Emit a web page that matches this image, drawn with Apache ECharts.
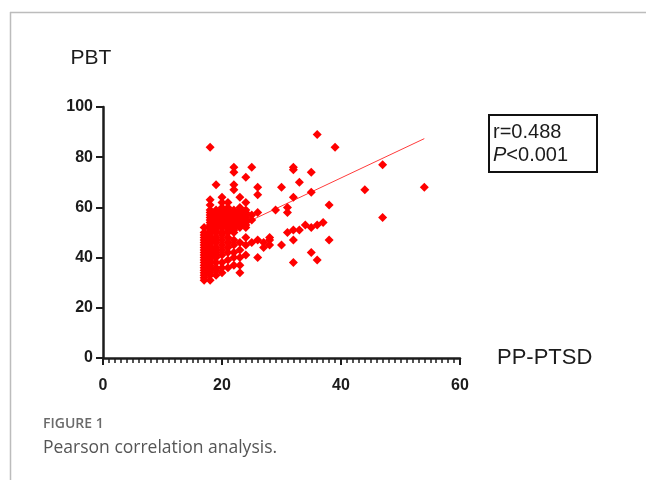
<!DOCTYPE html>
<html>
<head>
<meta charset="utf-8">
<script src="https://cdn.jsdelivr.net/npm/echarts@6.0.0/dist/echarts.min.js"></script>
<style>
html, body { margin: 0; padding: 0; background: #fff; }
#main { width: 646px; height: 480px; }
</style>
</head>
<body>
<div id="main"></div>
<script>
// PP-PTSD score (x) and the PBT scores seen at that x
const ptsdValues = [17, 18, 19, 20, 21, 22, 23, 24, 25, 26, 27, 28, 29, 30, 31, 32, 33, 34, 35, 36, 37, 38, 39, 44, 47, 54];
const pbtByPtsd = [
    [31, 32, 33, 34, 35, 36, 37, 38, 39, 40, 41, 42, 43, 44, 45, 46, 47, 48, 49, 50, 52],
    [31, 33, 34, 35, 36, 37, 38, 39, 40, 41, 42, 43, 44, 45, 46, 47, 48, 49, 50, 51, 52, 53, 54, 55, 56, 57, 58, 59, 61, 63, 84],
    [33, 35, 36, 38, 40, 41, 42, 43, 44, 46, 47, 48, 50, 51, 52, 53, 54, 55, 56, 57, 58, 59, 69],
    [34, 36, 38, 41, 43, 45, 47, 49, 50, 52, 53, 54, 55, 56, 57, 58, 59, 60, 62, 64],
    [36, 39, 42, 44, 46, 48, 50, 51, 52, 53, 54, 55, 56, 57, 58, 59, 60, 62],
    [37, 40, 42, 45, 47, 50, 51, 52, 53, 54, 55, 56, 57, 58, 59, 67, 69, 74, 76],
    [34, 37, 40, 43, 46, 52, 53, 54, 55, 56, 57, 58, 59, 60, 64],
    [41, 45, 48, 52, 53, 54, 55, 56, 57, 58, 59, 62, 72],
    [46, 55, 57, 76],
    [40, 47, 58, 65, 68],
    [44, 46],
    [45, 47, 48],
    [59],
    [45, 68],
    [50, 58, 60],
    [38, 47, 51, 64, 75, 76],
    [51, 70],
    [53],
    [42, 52, 66, 74],
    [39, 53, 89],
    [54],
    [47, 61],
    [84],
    [67],
    [56, 77],
    [68]
];

// fitted line, ends
const fitX = [17, 54];
const fitY = [46, 87.4];

const xTicks = [0, 20, 40, 60];
const yTicks = [0, 20, 40, 60, 80, 100];

let points = [];
ptsdValues.forEach((x, i) => {
    pbtByPtsd[i].forEach(y => points.push([x, y]));
});

let myChart = echarts.init(document.getElementById('main'));

const axisFont = 'Arial, "Liberation Sans", sans-serif';
const ink = '#1c1c1c';

let option = {
    animation: false,
    grid: {
        left: 103,
        top: 107,
        width: 357,
        height: 251
    },
    xAxis: {
        type: 'value',
        min: xTicks[0],
        max: xTicks[xTicks.length - 1],
        interval: 20,
        name: 'PP-PTSD',
        nameLocation: 'end',
        nameGap: 37,
        nameTextStyle: {
            fontFamily: axisFont,
            fontSize: 22,
            color: ink,
            padding: [20, 0, 0, 0]
        },
        axisLine: { show: true, lineStyle: { color: ink, width: 2.5 } },
        axisTick: { show: true, length: 7, lineStyle: { color: ink, width: 2 } },
        minorTick: { show: true, splitNumber: 20, length: 5, lineStyle: { color: ink, width: 1.5 } },
        splitLine: { show: false },
        axisLabel: {
            margin: 20,
            fontFamily: axisFont,
            fontSize: 16,
            fontWeight: 'bold',
            color: ink
        }
    },
    yAxis: {
        type: 'value',
        min: yTicks[0],
        max: yTicks[yTicks.length - 1],
        interval: 20,
        name: 'PBT',
        nameLocation: 'end',
        nameGap: 38,
        nameTextStyle: {
            fontFamily: axisFont,
            fontSize: 21,
            color: ink,
            align: 'center',
            padding: [0, 24, 0, 0]
        },
        axisLine: { show: true, lineStyle: { color: ink, width: 2.5 } },
        axisTick: { show: true, length: 7, lineStyle: { color: ink, width: 2 } },
        splitLine: { show: false },
        axisLabel: {
            margin: 10,
            fontFamily: axisFont,
            fontSize: 16,
            fontWeight: 'bold',
            color: ink
        }
    },
    series: [{
        name: 'points',
        type: 'scatter',
        symbol: 'diamond',
        symbolSize: 9,
        itemStyle: { color: '#ff0000', opacity: 1 },
        data: points,
        z: 3
    }, {
        name: 'fit',
        type: 'line',
        data: fitX.map((x, i) => [x, fitY[i]]),
        showSymbol: false,
        lineStyle: { color: '#ff3b3b', width: 1 },
        z: 2
    }],
    graphic: [
        // page frame
        { type: 'line', shape: { x1: 10, y1: 12.5, x2: 646, y2: 12.5 }, style: { stroke: '#bcbcbc', lineWidth: 1.5 } },
        { type: 'line', shape: { x1: 10.5, y1: 12, x2: 10.5, y2: 480 }, style: { stroke: '#bcbcbc', lineWidth: 1.5 } },
        // r / P box
        { type: 'rect', shape: { x: 489, y: 115, width: 108, height: 57 }, style: { fill: '#fff', stroke: '#111', lineWidth: 2 } },
        { type: 'text', left: 493, top: 122, style: { text: 'r=0.488', font: '20px Arial, "Liberation Sans", sans-serif', fill: ink } },
        {
            type: 'text', left: 493, top: 145,
            style: {
                text: '{i|P}{n|<0.001}',
                rich: {
                    i: { fontFamily: axisFont, fontSize: 20, fontStyle: 'italic', fill: ink, color: ink },
                    n: { fontFamily: axisFont, fontSize: 20, fill: ink, color: ink }
                }
            }
        },
        // caption
        { type: 'text', left: 43, top: 417, style: { text: 'FIGURE 1', font: '600 14px "Open Sans", sans-serif', fill: '#6a6a6a' } },
        { type: 'text', left: 43, top: 439, style: { text: 'Pearson correlation analysis.', font: '17.5px "Open Sans", sans-serif', fill: '#555' } }
    ]
};

myChart.setOption(option);
</script>
</body>
</html>
